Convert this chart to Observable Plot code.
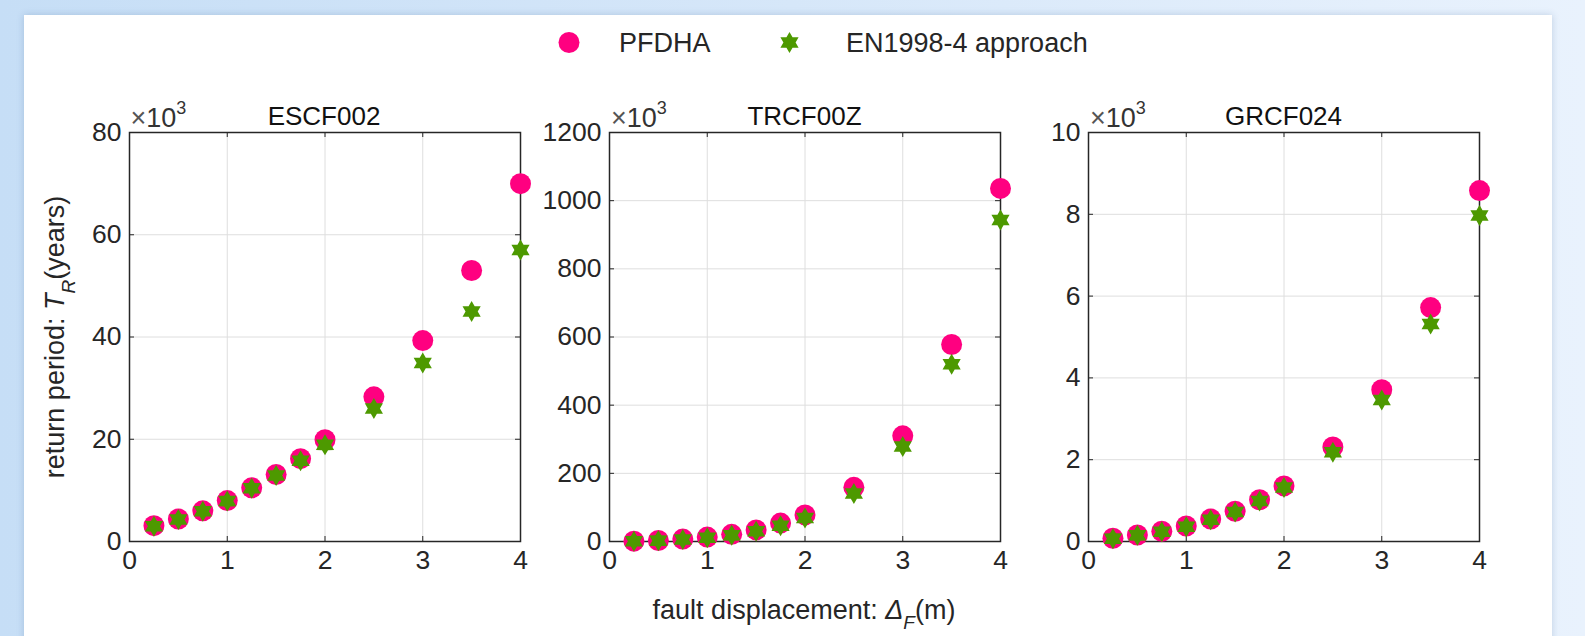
<!DOCTYPE html>
<html>
<head>
<meta charset="utf-8">
<script src="https://cdn.jsdelivr.net/npm/d3@7"></script>
<script src="https://cdn.jsdelivr.net/npm/@observablehq/plot@0.6"></script>
<style>
  html, body { margin: 0; padding: 0; }
  body { width: 1585px; height: 636px; overflow: hidden; }
  #wrap { position: relative; width: 1585px; height: 636px; overflow: hidden;
          background: linear-gradient(90deg, #c6def6 0%, #d6e7f9 50%, #e9f2fd 100%);
          font-family: "Liberation Sans", Arial, Helvetica, sans-serif; color: #262626; }
  #card { position: absolute; left: 24px; top: 15px; width: 1528px; height: 660px; background: #fff;
          box-shadow: 0 0 7px rgba(40, 80, 130, 0.22); }
  .abs { position: absolute; white-space: nowrap; line-height: 1; }
  .panel { position: absolute; }
  .panel svg { overflow: visible; }
  sub, sup { line-height: 0; }
</style>
</head>
<body>
<div id="wrap">
  <div id="card"></div>
</div>
<script>
// ---- data (values in ×10^3 years) ----
const displacement = [0.25, 0.5, 0.75, 1, 1.25, 1.5, 1.75, 2, 2.5, 3, 3.5, 4];

const escfPFDHA = [3.1, 4.4, 6.0, 8.0, 10.5, 13.1, 16.2, 19.9, 28.3, 39.3, 53.0, 70.0];
const escfEN    = [3.0, 4.3, 5.9, 7.9, 10.4, 12.9, 15.8, 18.9, 26.0, 34.9, 45.0, 57.0];

const trcfPFDHA = [1, 3, 7, 13, 21, 34, 54, 78, 159, 310, 578, 1036];
const trcfEN    = [1, 2.5, 6, 11, 18, 30, 46, 69, 141, 279, 520, 943];

const grcfPFDHA = [0.08, 0.16, 0.25, 0.38, 0.55, 0.74, 1.02, 1.36, 2.31, 3.71, 5.72, 8.58];
const grcfEN    = [0.07, 0.15, 0.24, 0.36, 0.53, 0.72, 0.99, 1.32, 2.18, 3.46, 5.32, 7.97];

const panelNames = ["ESCF002", "TRCF00Z", "GRCF024"];
const xTicks = [0, 1, 2, 3, 4];
const escfTicks = [0, 20, 40, 60, 80];
const trcfTicks = [0, 200, 400, 600, 800, 1000, 1200];
const grcfTicks = [0, 2, 4, 6, 8, 10];

const seriesNames = ["PFDHA", "EN1998-4 approach"];

// ---- styling / layout ----
const PINK = "#ff0080";
const GREEN = "#4d9900";
const AXIS = "#262626";
const GRID = "#dedede";
const ML = 90, MR = 20, MT = 50, MB = 50;
const innerW = 391, innerH = 409;
const axisTop = 132, axisLefts = [128.5, 609, 1088];

// six-pointed star (hexagram), point up
const hexagram = {
  draw(ctx, size) {
    const R = Math.sqrt(size / Math.PI);
    const r = R * 0.58;
    for (let i = 0; i < 12; i++) {
      const a = -Math.PI / 2 + i * Math.PI / 6;
      const rad = i % 2 === 0 ? R : r;
      const x = rad * Math.cos(a), y = rad * Math.sin(a);
      if (i === 0) ctx.moveTo(x, y); else ctx.lineTo(x, y);
    }
    ctx.closePath();
  }
};

const wrap = document.getElementById("wrap");

function addText(html, left, top, extra = "") {
  const d = document.createElement("div");
  d.className = "abs";
  d.style.cssText = `left:${left}px;top:${top}px;${extra}`;
  d.innerHTML = html;
  wrap.appendChild(d);
  return d;
}

function panel(idx, pf, en, yTicks) {
  const data = displacement.map((x, i) => ({x, pf: pf[i], en: en[i]}));
  const ymax = yTicks[yTicks.length - 1];
  const chart = Plot.plot({
    width: ML + innerW + MR,
    height: MT + innerH + MB,
    marginLeft: ML, marginRight: MR, marginTop: MT, marginBottom: MB,
    style: {fontFamily: '"Liberation Sans", Arial, sans-serif', fontSize: "26.5px", color: AXIS,
            background: "transparent", overflow: "visible"},
    x: {domain: [0, 4]},
    y: {domain: [0, ymax]},
    marks: [
      Plot.gridX(xTicks, {stroke: GRID, strokeOpacity: 1, strokeWidth: 1}),
      Plot.gridY(yTicks, {stroke: GRID, strokeOpacity: 1, strokeWidth: 1}),
      Plot.tickX(xTicks, {x: d => d, insetTop: innerH - 5, stroke: AXIS}),
      Plot.tickX(xTicks, {x: d => d, insetBottom: innerH - 5, stroke: AXIS}),
      Plot.tickY(yTicks, {y: d => d, insetRight: innerW - 5, stroke: AXIS}),
      Plot.tickY(yTicks, {y: d => d, insetLeft: innerW - 5, stroke: AXIS}),
      Plot.axisX(xTicks, {tickSize: 0, tickPadding: 9, label: null, tickFormat: d => String(d), fill: AXIS}),
      Plot.axisY(yTicks, {tickSize: 0, tickPadding: 8, label: null, tickFormat: d => String(d), fill: AXIS}),
      Plot.frame({stroke: AXIS, strokeWidth: 1.5}),
      Plot.dot(data, {x: "x", y: "pf", r: 10.5, fill: PINK, stroke: "none"}),
      Plot.dot(data, {x: "x", y: "en", r: 10.5, symbol: hexagram, fill: GREEN, stroke: "none"})
    ]
  });
  const holder = document.createElement("div");
  holder.className = "panel";
  holder.style.left = (axisLefts[idx] - ML) + "px";
  holder.style.top = (axisTop - MT) + "px";
  holder.appendChild(chart);
  wrap.appendChild(holder);

  const cx = axisLefts[idx] + innerW / 2;
  // title
  addText(panelNames[idx], cx, 103, "font-size:26px;color:#111;transform:translateX(-50%);");
  // exponent label
  addText('<span style="color:#555">×</span>10<sup style="font-size:18px;position:relative;top:-3px;">3</sup>',
          axisLefts[idx] + 2, 104.5, "font-size:27px;color:#333;");
}

panel(0, escfPFDHA, escfEN, escfTicks);
panel(1, trcfPFDHA, trcfEN, trcfTicks);
panel(2, grcfPFDHA, grcfEN, grcfTicks);

// axis labels
addText('return period: <i>T</i><sub style="font-size:19px;position:relative;top:5px;"><i>R</i></sub>(years)', 55, 337,
        "font-size:27px;transform:translate(-50%,-50%) rotate(-90deg);");
addText('fault displacement: <i>Δ</i><sub style="font-size:19px;position:relative;top:4px;"><i>F</i></sub>(m)', 804, 597,
        "font-size:27px;transform:translateX(-50%);");

// legend
const legend = document.createElementNS("http://www.w3.org/2000/svg", "svg");
legend.setAttribute("width", 1585); legend.setAttribute("height", 80);
legend.style.cssText = "position:absolute;left:0;top:0;overflow:visible";
const lc = document.createElementNS("http://www.w3.org/2000/svg", "circle");
lc.setAttribute("cx", 569); lc.setAttribute("cy", 42.5); lc.setAttribute("r", 10.5); lc.setAttribute("fill", PINK);
legend.appendChild(lc);
const star = document.createElementNS("http://www.w3.org/2000/svg", "path");
const sp = d3.path(); hexagram.draw(sp, Math.PI * 10.5 * 10.5);
star.setAttribute("d", sp.toString()); star.setAttribute("transform", "translate(789.5,42.5)"); star.setAttribute("fill", GREEN);
legend.appendChild(star);
wrap.appendChild(legend);
addText(seriesNames[0], 619, 29.5, "font-size:27px;");
addText(seriesNames[1], 846, 29.5, "font-size:27px;");
</script>
</body>
</html>
